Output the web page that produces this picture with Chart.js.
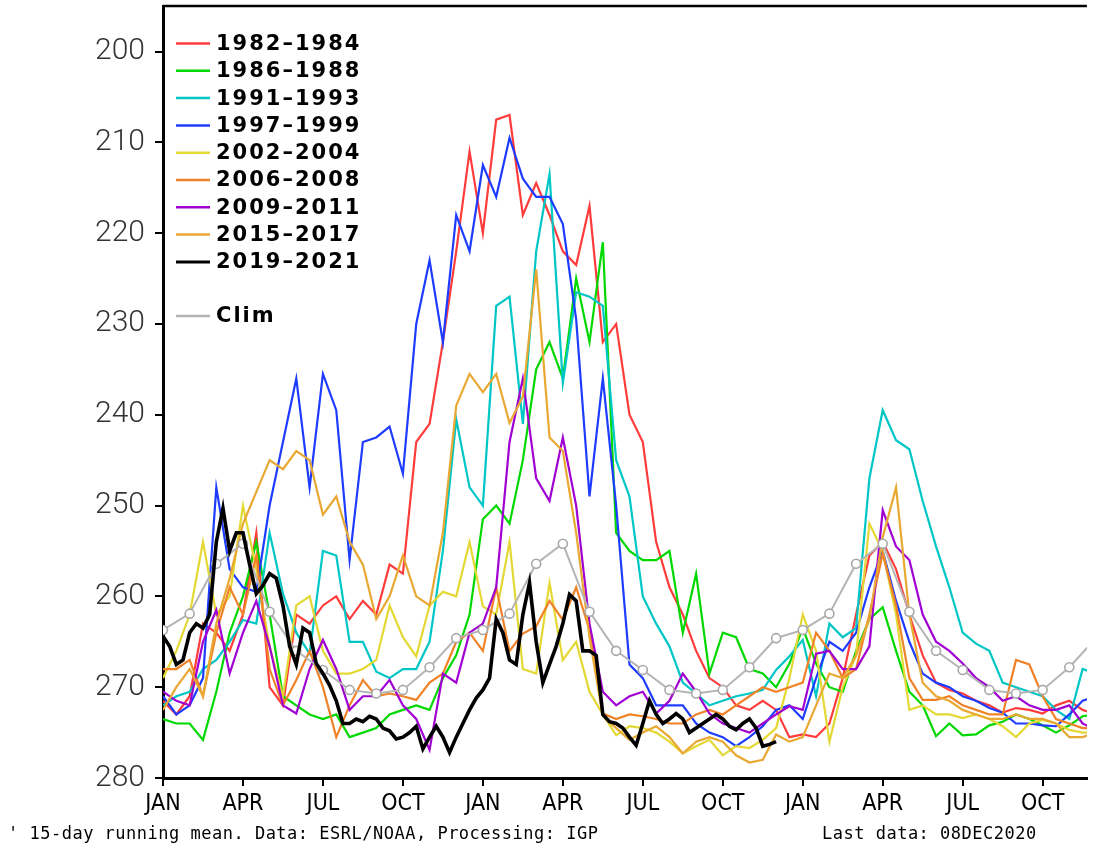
<!DOCTYPE html>
<html>
<head>
<meta charset="utf-8">
<style>
  html, body { margin: 0; padding: 0; background: #fff; overflow: hidden; }
  #wrap { position: relative; width: 1093px; height: 846px; }
  #chart { position: absolute; left: 0; top: 0; }
  .note { position: absolute; top: 823px; font: 17px "DejaVu Sans Mono", monospace; letter-spacing: 0.5px; color: #000; white-space: nowrap; line-height: 20px; }
</style>
<script src="https://cdn.jsdelivr.net/npm/chart.js@4/dist/chart.umd.min.js"></script>
</head>
<body>
<div id="wrap">
  <canvas id="chart" width="1093" height="846"></canvas>
  <div class="note" style="left:8px">' 15-day running mean. Data: ESRL/NOAA, Processing: IGP</div>
  <div class="note" style="left:822px">Last data: 08DEC2020</div>
</div>
<script>
  // x is in months from JAN of the first year, series sampled every half month
  var step = 0.5;
  var blackStep = 0.25;
  var climStep = 1;

  var tickMonths = [0, 3, 6, 9, 12, 15, 18, 21, 24, 27, 30, 33];
  var tickLabels = ["JAN", "APR", "JUL", "OCT", "JAN", "APR", "JUL", "OCT", "JAN", "APR", "JUL", "OCT"];
  var yTicks = [200, 210, 220, 230, 240, 250, 260, 270, 280];

  var periods = ["1982–1984", "1986–1988", "1991–1993", "1997–1999", "2002–2004", "2006–2008", "2009–2011", "2015–2017", "2019–2021"];
  var colors = ["#ff3c3c", "#00d800", "#00c6c6", "#1e3cff", "#e4d834", "#f08228", "#a000d2", "#e8a832", "#000000"];

  var s1982 = [
    271.5, 273, 271, 263, 264, 266, 262, 253, 270, 272, 262, 263, 261, 260, 262.5, 260.5, 262, 256.5, 257.5, 243, 241, 232, 222, 211,
    220, 207.5, 207, 218, 214.5, 218, 222, 223.5, 217, 232, 230, 240, 243, 254, 259, 262, 266, 269, 270, 272, 272.5, 271.5, 272.5, 275.5,
    275.2, 275.5, 274, 269, 262, 255.5, 254, 257, 262, 266.5, 269.5, 270.3, 270.7, 271.5, 272, 272.8, 272.3, 272.5, 272.9, 272, 271.5, 272.5, 273
  ];
  var s1986 = [
    273.5, 274, 274, 275.8, 270.5, 264, 260, 254, 262, 271, 272, 273, 273.5, 273, 275.5, 275, 274.5, 273, 272.5, 272, 272.5, 269, 266.5, 262,
    251.5, 250, 252, 245, 235, 232, 236, 225, 232, 221, 253, 255, 256, 256, 255, 264, 257.5, 268.5, 264, 264.5, 268, 268.5, 270, 267.4,
    263.5, 267.4, 270, 270.5, 266, 262.5, 261.2, 266, 270.5, 272, 275.4, 274, 275.3, 275.2, 274.2, 273.8, 273, 273.5, 274.2, 275, 274.2, 273.2, 273
  ];
  var s1991 = [
    272, 271, 270.5, 268, 267, 265, 262.6, 263, 253, 259.7, 264, 266.3, 255, 255.5, 265, 265, 268.3, 269, 268, 268, 265, 255, 240.5, 248,
    250, 228, 227, 241, 222, 213.5, 236.5, 226.5, 227, 228, 245, 249, 260, 263, 265.5, 269.5, 270.7, 272, 271.5, 271, 270.7, 270.3, 268.1, 266.6,
    264.8, 271, 263, 264.5, 263.5, 247, 239.5, 242.8, 243.8, 249.5, 254.5, 259, 264, 265.2, 266, 269.5, 270, 270.5, 271, 272.5, 273.5, 268, 268.5
  ];
  var s1997 = [
    271, 273, 272, 269, 248, 257, 259, 259.5, 250, 243, 236, 248, 235.5, 239.5, 256, 243, 242.5, 241.3, 246.5, 230, 223, 232, 218, 222,
    212.5, 216, 209.5, 214, 216, 216, 219, 229.5, 249, 236, 250, 267.5, 269, 272, 272, 272, 274, 275, 275.5, 276.5, 275.5, 274.3, 272.5, 272,
    273.5, 269, 265, 266, 264, 259, 255, 260.5, 265, 268.5, 269.5, 270, 271, 271.5, 272.3, 272.8, 274, 274, 274.2, 274.3, 273, 271.5, 271
  ];
  var s2002 = [
    269, 266, 262, 254, 262, 260, 250, 257, 265.5, 271, 261, 260, 266, 268.5, 268.5, 268, 267, 261, 264.5, 266.6, 261, 259.5, 260, 254,
    261.1, 262, 254, 268, 268.5, 258.5, 267, 265, 270.5, 273, 275.3, 274.3, 274.5, 275, 276, 277.3, 276.5, 275.8, 277.5, 276.5, 276.7, 275.8, 274.5, 269,
    262, 266, 276, 270, 266.5, 252, 255, 262, 272.5, 272, 273, 273, 273.4, 273, 273.5, 274.3, 275.5, 274, 273.6, 274, 274.7, 275, 275
  ];
  var s2006 = [
    268, 268, 267, 271, 264, 259, 262, 255.5, 268, 272, 269.2, 266, 270, 275.5, 272, 269.2, 271, 270.7, 271, 271.4, 269.5, 268.5, 265, 264,
    266, 259, 266, 264.1, 263.3, 260.5, 262.6, 259, 263.7, 272.9, 273.5, 273, 273.2, 273.5, 274, 274, 273, 272.5, 273, 272, 271, 270, 270.5, 270,
    269.5, 264, 266, 269, 268, 262, 255.3, 261, 269, 271.4, 271.4, 271, 272, 272.5, 273, 273, 267, 267.5, 271, 273.5, 274, 274.5, 274.5
  ];
  var s2009 = [
    270.5, 271.5, 272, 265, 261.5, 268.5, 264, 260.5, 265.5, 272, 272.9, 268, 264.8, 268, 272.5, 271, 271, 269.2, 272, 273.5, 276.9, 268.5, 269.5, 264,
    263, 259, 243, 236, 247, 249.5, 242.5, 250, 263, 270.5, 272, 271, 270.5, 272.9, 271.5, 268.5, 270.5, 272.9, 274, 274.5, 275, 274, 273, 272.1,
    272.5, 266.3, 266, 268, 268, 265.5, 250.5, 254.5, 256, 262, 265, 266, 267.4, 269, 270, 271.5, 271, 272, 272.5, 272.5, 272, 274, 274.7
  ];
  var s2015 = [
    272.5, 270, 268, 271, 263, 258, 252, 248.5, 245, 246, 244, 245, 251, 249, 254, 256.5, 262.5, 260, 255.5, 260, 261, 253, 239, 235.5,
    237.5, 235.5, 240.9, 238, 224, 242.5, 244, 253, 264.5, 273.2, 274.5, 275.8, 275, 274.3, 275.5, 277.3, 276, 275.5, 276, 277.5, 278.3, 278, 275.2, 276,
    275.5, 272, 268.5, 269, 266.5, 262.5, 253.5, 248, 262, 269.5, 271, 271.5, 272.5, 273, 273.5, 273.5, 273, 273.5, 273.5, 274, 275.5, 275.5, 275
  ];
  // 2019-2021 sampled every quarter month, ends 08DEC2020
  var s2019 = [
    264.4, 265.5, 267.5, 267, 264, 263, 263.5, 262, 254, 250.3, 255, 253, 253, 256.5, 259.7, 258.8,
    257.5, 258, 261, 265.5, 267.5, 263.5, 264, 267.4, 268.5, 269.8, 271.5, 274, 274, 273.5, 273.8, 273.2,
    273.5, 274.5, 274.8, 275.7, 275.5, 275, 274.3, 276.8, 275.5, 274.3, 275.5, 277.2, 275.5, 274, 272.5, 271.2,
    270.3, 269, 262.5, 264, 267, 267.5, 262, 258.5, 265, 269.5, 267.5, 265.5, 263, 259.8, 260.5, 266,
    266, 266.5, 273, 273.8, 274, 274.5, 275.5, 276.4, 274, 271.5, 273, 274, 273.5, 272.9, 273.5, 275,
    274.5, 274, 273.5, 273, 273.5, 274.3, 274.7, 274, 273.5, 274.5, 276.5, 276.3, 276
  ];
  var clim = [
    263.7, 261.9, 256.4, 254.2, 261.7, 266.0, 268.1, 270.3, 270.7, 270.3, 267.8, 264.6,
    263.7, 261.9, 256.4, 254.2, 261.7, 266.0, 268.1, 270.3, 270.7, 270.3, 267.8, 264.6,
    263.7, 261.9, 256.4, 254.2, 261.7, 266.0, 268.1, 270.3, 270.7, 270.3, 267.8, 264.6
  ];

  var seriesList = [s1982, s1986, s1991, s1997, s2002, s2006, s2009, s2015, s2019];

  function toPoints(values, dx) {
    return values.map(function (v, i) { return { x: i * dx, y: v }; });
  }

  var datasets = seriesList.map(function (values, i) {
    var last = i === seriesList.length - 1;
    return {
      label: periods[i],
      data: toPoints(values, last ? blackStep : step),
      borderColor: colors[i],
      borderWidth: last ? 3.6 : 2.2,
      pointRadius: 0,
      tension: 0,
      order: last ? 0 : 10 - i
    };
  });
  datasets.push({
    label: "Clim",
    data: toPoints(clim, climStep),
    borderColor: "#b4b4b4",
    borderWidth: 2,
    pointRadius: 4.5,
    pointBorderWidth: 1.6,
    pointBackgroundColor: "#ffffff",
    pointBorderColor: "#a8a8a8",
    tension: 0,
    order: 1
  });

  // legend inside the plot + top frame line
  var frameLegend = {
    id: "frameLegend",
    afterDraw: function (chart) {
      var ctx = chart.ctx;
      var a = chart.chartArea;
      ctx.save();
      ctx.strokeStyle = "#000";
      ctx.lineWidth = 2.5;
      ctx.beginPath();
      ctx.moveTo(a.left, a.top);
      ctx.lineTo(a.right, a.top);
      ctx.stroke();

      ctx.font = 'bold 21px "DejaVu Sans"';
      ctx.letterSpacing = "2px";
      ctx.textBaseline = "middle";
      ctx.fillStyle = "#000";
      chart.data.datasets.forEach(function (ds, i) {
        var y = ds.label === "Clim" ? 316 : 43.5 + i * 27.3;
        ctx.strokeStyle = ds.borderColor;
        ctx.lineWidth = i === 8 ? 3 : 2.5;
        ctx.beginPath();
        ctx.moveTo(176, y);
        ctx.lineTo(210, y);
        ctx.stroke();
        ctx.fillText(ds.label, 216, y + 1);
      });
      ctx.restore();
    }
  };

  var axisGrid = { display: true, drawOnChartArea: false, drawTicks: true, tickLength: 8, color: "#000", lineWidth: 2 };

  var myChart = new Chart(document.getElementById("chart"), {
    type: "line",
    data: { datasets: datasets },
    options: {
      responsive: false,
      animation: false,
      layout: { padding: { left: 0, top: 6, right: 0, bottom: 0 } },
      plugins: { legend: { display: false }, tooltip: { enabled: false } },
      scales: {
        x: {
          type: "linear",
          min: 0,
          max: 34.66,
          afterBuildTicks: function (s) { s.ticks = tickMonths.map(function (v) { return { value: v }; }); },
          afterFit: function (s) { s.height = 68; s.paddingLeft = 0; s.paddingRight = 0; },
          ticks: {
            autoSkip: false,
            maxRotation: 0,
            padding: 4,
            color: "#000",
            font: { family: '"Liberation Sans Narrow", "DejaVu Sans Condensed", sans-serif', size: 23 },
            callback: function (v) { return tickLabels[tickMonths.indexOf(v)]; }
          },
          grid: axisGrid,
          border: { display: true, color: "#000", width: 3 }
        },
        y: {
          type: "linear",
          reverse: true,
          min: 195,
          max: 280,
          afterBuildTicks: function (s) { s.ticks = yTicks.map(function (v) { return { value: v }; }); },
          afterFit: function (s) { s.width = 163; s.paddingTop = 0; s.paddingBottom = 0; },
          ticks: {
            padding: 10,
            color: "#333",
            font: { family: "Roboto", size: 30, weight: 300 }
          },
          grid: axisGrid,
          border: { display: true, color: "#000", width: 3 }
        }
      }
    },
    plugins: [frameLegend]
  });
</script>
</body>
</html>
